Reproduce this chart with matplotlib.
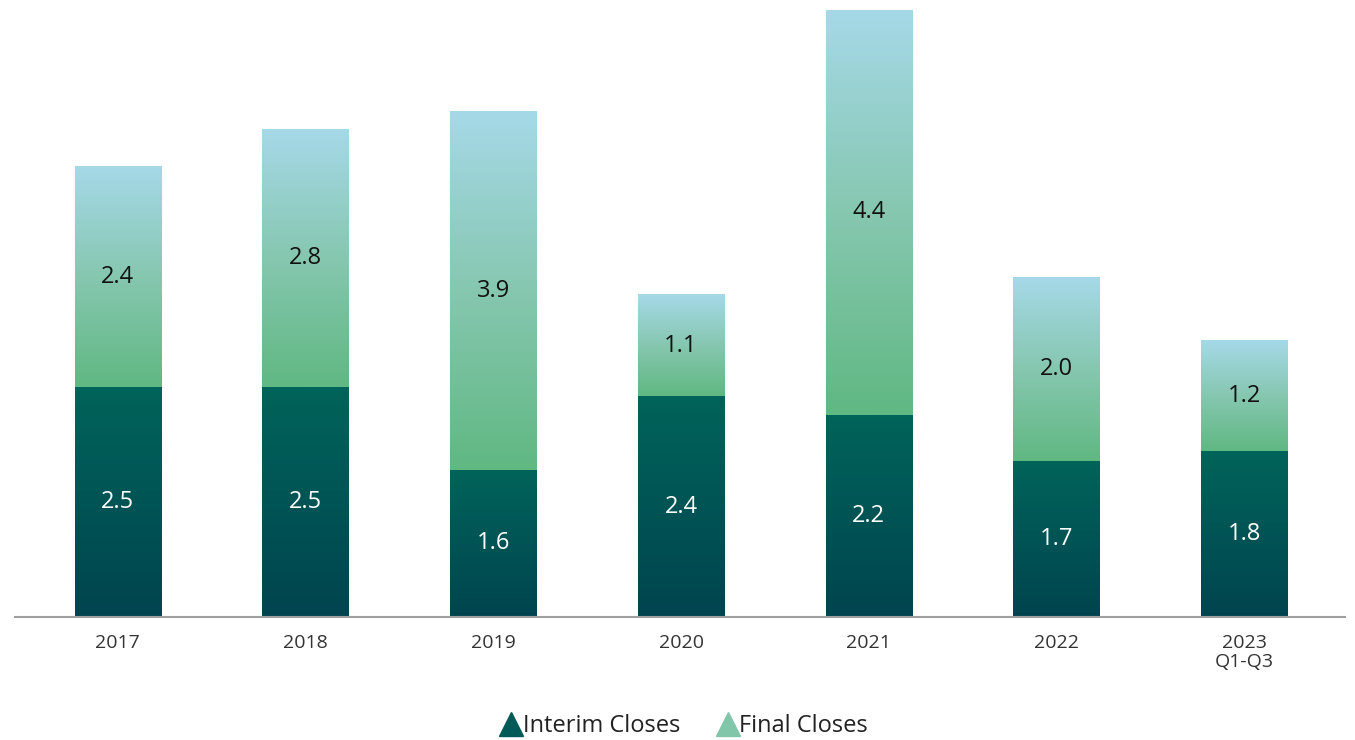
import matplotlib.pyplot as plt
import numpy as np
from matplotlib.colors import LinearSegmentedColormap
from matplotlib.lines import Line2D

plt.rcParams['font.family'] = ['Open Sans', 'DejaVu Sans']

years = ["2017", "2018", "2019", "2020", "2021", "2022", "2023\nQ1-Q3"]
interim = [2.5, 2.5, 1.6, 2.4, 2.2, 1.7, 1.8]
final = [2.4, 2.8, 3.9, 1.1, 4.4, 2.0, 1.2]

# bottom -> top colour ramps for each segment
cm_interim = LinearSegmentedColormap.from_list("interim", ["#00444f", "#00645a"])
cm_final = LinearSegmentedColormap.from_list("final", ["#60b882", "#86c7b0", "#a6d9e8"])

fig = plt.figure(figsize=(13.55, 7.40), dpi=100)
ax = fig.add_axes([15 / 1355, 1 - 617 / 740, 1330 / 1355, 607 / 740])

x = np.arange(len(years))
w = 0.46
grad = np.linspace(0, 1, 256).reshape(-1, 1)

b1 = ax.bar(x, interim, w, color="none", edgecolor="none")
b2 = ax.bar(x, final, w, bottom=interim, color="none", edgecolor="none")

for bars, cmap in [(b1, cm_interim), (b2, cm_final)]:
    for p in bars:
        x0, y0 = p.get_x(), p.get_y()
        ax.imshow(grad, cmap=cmap, origin="lower", aspect="auto",
                  extent=[x0, x0 + p.get_width(), y0, y0 + p.get_height()],
                  zorder=2)

for i in range(len(years)):
    ax.text(x[i], interim[i] / 2, f"{interim[i]:.1f}", ha="center", va="center",
            color="white", fontsize=17, zorder=3)
    ax.text(x[i], interim[i] + final[i] / 2, f"{final[i]:.1f}", ha="center",
            va="center", color="#111111", fontsize=17, zorder=3)

ax.set_xlim(-0.548, 6.537)
ax.set_ylim(0, 6.6)
ax.set_xticks(x)
ax.set_xticklabels(years, fontsize=14, color="#333333", linespacing=1.1)
ax.tick_params(axis="x", length=0, pad=12)
ax.set_yticks([])
for s in ["top", "right", "left"]:
    ax.spines[s].set_visible(False)
ax.spines["bottom"].set_color("#a0a0a0")
ax.spines["bottom"].set_linewidth(1.5)

handles = [
    Line2D([], [], marker="^", ls="none", markersize=17, color="#005a58"),
    Line2D([], [], marker="^", ls="none", markersize=17, color="#82c6aa"),
]
fig.legend(handles, ["Interim Closes", "Final Closes"], loc="center",
           bbox_to_anchor=(0.502, 1 - 726 / 740), ncol=2, frameon=False,
           fontsize=17, handletextpad=-0.3, columnspacing=1.2,
           handlelength=1.6, labelcolor="#222222")

fig.savefig("out.png", dpi=100)
